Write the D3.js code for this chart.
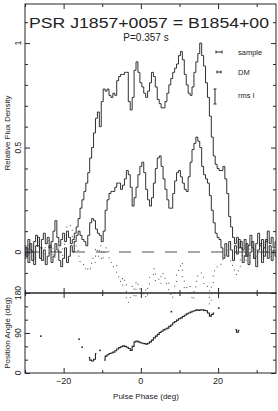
<!DOCTYPE html>
<html><head><meta charset="utf-8">
<script src="https://cdn.jsdelivr.net/npm/d3@7"></script>
<style>
body{margin:0;background:#fff}
svg{display:block}
text{font-family:"Liberation Sans",Arial,Helvetica,sans-serif;fill:#222}
</style>
</head><body>
<svg id="chart" width="278" height="411"></svg>
<script>
// ---------- DATA ----------
const phaseStart = -30, phaseStep = 0.5;   // deg, sample grid
// Total intensity (relative flux)
const totalI = [
  0.03,-0.02,0.06,0.01,-0.04,0.05,0.08,0.03,-0.03,0.06,
  0.09,0.04,0.07,0.02,0.05,0.10,0.15,0.07,0.03,0.06,
  0.09,0.05,0.10,0.07,0.04,0.06,0.09,0.12,0.16,0.21,
  0.25,0.29,0.33,0.38,0.45,0.50,0.57,0.64,0.67,0.60,
  0.72,0.78,0.77,0.78,0.75,0.74,0.76,0.75,0.82,0.84,
  0.85,0.85,0.86,0.86,0.72,0.68,0.74,0.87,0.91,0.86,
  0.81,0.79,0.76,0.74,0.77,0.81,0.86,0.84,0.79,0.73,
  0.71,0.69,0.69,0.72,0.76,0.80,0.83,0.86,0.88,0.90,
  0.94,0.96,0.92,0.85,0.80,0.76,0.75,0.79,0.86,0.91,
  0.95,1.00,0.94,0.89,0.81,0.74,0.65,0.55,0.46,0.42,
  0.40,0.39,0.39,0.41,0.35,0.28,0.17,0.12,0.07,0.04,
  0.07,0.02,0.05,0.01,0.06,-0.02,0.03,0.08,0.02,-0.03,
  0.04,0.09,0.03,0.06,-0.02,0.05,0.10,0.04,0.07,0.02,
  0.05
];
// Linear polarisation
const linearL = [
  -0.03,0.02,-0.05,0.04,0.00,-0.06,0.03,0.07,0.02,-0.04,
  0.01,-0.06,-0.02,0.03,-0.05,-0.02,0.04,0.01,-0.04,-0.07,
  -0.03,0.02,-0.05,-0.02,0.03,0.00,0.05,0.08,0.10,0.08,
  0.06,0.05,0.03,0.08,0.14,0.16,0.15,0.11,0.09,0.08,
  0.05,0.10,0.20,0.25,0.28,0.29,0.29,0.31,0.33,0.33,
  0.30,0.32,0.35,0.39,0.37,0.31,0.22,0.26,0.31,0.37,
  0.41,0.43,0.38,0.30,0.25,0.22,0.26,0.33,0.40,0.45,
  0.46,0.41,0.35,0.30,0.25,0.21,0.21,0.28,0.34,0.38,
  0.39,0.36,0.33,0.30,0.29,0.36,0.43,0.49,0.52,0.55,
  0.53,0.50,0.41,0.37,0.35,0.33,0.27,0.20,0.14,0.09,
  0.07,0.06,0.02,-0.03,0.04,-0.02,0.05,0.01,-0.04,0.03,
  -0.01,0.06,0.02,-0.05,-0.02,0.04,-0.06,0.00,0.05,-0.03,
  -0.07,0.01,0.04,-0.05,0.02,0.06,-0.03,0.03,-0.04,0.01,
  -0.02
];
// Circular polarisation
const circularV = [
  0.02,-0.03,0.04,-0.01,0.03,-0.04,0.01,0.05,-0.02,0.02,
  -0.05,0.03,0.06,-0.01,0.04,-0.03,0.02,0.05,0.00,-0.02,
  0.03,0.08,0.12,0.13,0.11,0.06,0.03,0.01,-0.02,-0.05,
  -0.06,-0.08,-0.07,-0.09,-0.08,-0.03,-0.05,0.02,-0.02,0.03,
  -0.04,0.00,0.02,0.01,-0.03,-0.05,-0.07,-0.06,-0.10,-0.13,
  -0.16,-0.12,-0.15,-0.22,-0.24,-0.20,-0.16,-0.22,-0.14,-0.17,
  -0.19,-0.21,-0.18,-0.22,-0.16,-0.12,-0.11,-0.08,-0.14,-0.13,
  -0.15,-0.10,-0.12,-0.15,-0.14,-0.20,-0.22,-0.21,-0.16,-0.10,
  -0.07,-0.05,-0.12,-0.18,-0.17,-0.16,-0.21,-0.23,-0.18,-0.14,
  -0.11,-0.10,-0.12,-0.15,-0.16,-0.18,-0.25,-0.16,-0.09,-0.08,
  -0.07,-0.06,-0.05,-0.03,-0.01,0.02,-0.02,-0.05,-0.08,-0.09,
  -0.11,-0.07,-0.03,0.01,-0.02,-0.04,-0.05,0.02,-0.01,0.03,
  -0.02,0.01,0.04,-0.03,0.02,0.00,-0.01,0.03,-0.02,0.01,
  0.02
];
// Position angle (deg), connected runs
const paPhase = [
  -13.5,-13.0,-12.5,-12.0,-11.5,
  -9.5,-9.0,-8.5,-8.0,-7.5,-7.0,-6.5,-6.0,-5.5,-5.0,-4.5,-4.0,-3.5,-3.0,-2.5,-2.0,-1.5,-1.0,-0.5,
  0.0,0.5,1.0,1.5,2.0,2.5,3.0,3.5,4.0,4.5,5.0,5.5,6.0,6.5,7.0,7.5,8.0,8.5,9.0,9.5,
  10.0,10.5,11.0,11.5,12.0,12.5,13.0,13.5,14.0,14.5,15.0,15.5,16.0,16.5,17.0,17.5,18.0,18.5,19.0,
  24.5,25.0,25.5
];
const paAngle = [
  35,29,27,31,44,
  29,38,41,44,45,47,50,54,57,59,61,60,58,55,51,60,70,72,70,
  68,67,66,65,67,70,74,79,83,87,91,94,97,99,101,105,108,113,116,119,
  122,124,127,130,133,135,137,139,140,142,141,142,142,141,140,135,128,132,135,
  98,92,96
];
// Isolated position-angle points
const paDotPhase = [-25.9,-16.0,-15.2,-10.6,7.9,20.2];
const paDotAngle = [83,76,58,51,138,146];

const xTicksMajor = [-20,0,20], xTicksMinor = [-30,-10,10,30];
const xTickLabels = ["\u221220","0","20"];
const fluxTicksMajor = [0,0.5,1], fluxTickLabels = ["0","0.5","1"];
const paTicksMajor = [0,90,180], paTickLabels = ["0","90","180"];
const legendLabels = ["sample","DM","rms I"];

// ---------- LAYOUT ----------
const svg = d3.select("#chart");
const L = 25, R = 276, T = 4, MID = 293, B = 373;
const x = d3.scaleLinear().domain([-30,35]).range([L,R]);
const yF = d3.scaleLinear().domain([-0.196,1.187]).range([MID,T]);
const yP = d3.scaleLinear().domain([0,180]).range([B,MID]);
const ink = "#262626";

const phases = totalI.map((_,i)=>phaseStart+i*phaseStep);

// zero line (dashed)
svg.append("line").attr("x1",L).attr("x2",R).attr("y1",yF(0)).attr("y2",yF(0))
  .attr("stroke","#8a8a8a").attr("stroke-width",1.6).attr("stroke-dasharray","12 11")
  .attr("stroke-dashoffset",-2);

const stepLine = (arr,yS)=>d3.line().x((d,i)=>x(phases[i])).y(d=>yS(d)).curve(d3.curveStep)(arr);

svg.append("path").attr("d",stepLine(linearL,yF)).attr("fill","none").attr("stroke",ink).attr("stroke-width",0.95);
svg.append("path").attr("d",stepLine(totalI,yF)).attr("fill","none").attr("stroke",ink).attr("stroke-width",0.95);
svg.append("path").attr("d",stepLine(circularV,yF)).attr("fill","none").attr("stroke","#444")
  .attr("stroke-width",1).attr("stroke-dasharray","1 5.5");

// PA connected runs
const runs = [];
paPhase.forEach((p,i)=>{
  if(i===0 || p-paPhase[i-1] > 0.6) runs.push([]);
  runs[runs.length-1].push([p,paAngle[i]]);
});
const paLine = d3.line().x(d=>x(d[0])).y(d=>yP(d[1])).curve(d3.curveStep);
runs.forEach(r=>svg.append("path").attr("d",paLine(r)).attr("fill","none").attr("stroke",ink).attr("stroke-width",1.1));
svg.selectAll(".padot").data(paDotPhase).enter().append("rect")
  .attr("x",(d)=>x(d)-0.8).attr("y",(d,i)=>yP(paDotAngle[i])-0.8).attr("width",1.6).attr("height",1.6).attr("fill",ink);

// frames
svg.append("rect").attr("x",L).attr("y",T).attr("width",R-L).attr("height",MID-T).attr("fill","none").attr("stroke",ink).attr("stroke-width",1);
svg.append("rect").attr("x",L).attr("y",MID).attr("width",R-L).attr("height",B-MID).attr("fill","none").attr("stroke",ink).attr("stroke-width",1);

// ticks helper
function ticks(axisFn, scale, vals, size, tx, ty){
  const g = svg.append("g").attr("transform",`translate(${tx},${ty})`)
    .call(axisFn(scale).tickValues(vals).tickSize(size).tickFormat(""));
  g.select(".domain").remove();
  g.selectAll("line").attr("stroke",ink);
}
[[d3.axisBottom,T],[d3.axisTop,MID],[d3.axisBottom,MID],[d3.axisTop,B]].forEach(([f,yy])=>{
  ticks(f,x,xTicksMajor,5,0,yy); ticks(f,x,xTicksMinor,3,0,yy);
});
const fluxMinor = d3.range(-1,12).map(v=>v/10).filter(v=>!fluxTicksMajor.includes(v));
ticks(d3.axisRight,yF,fluxTicksMajor,5,L,0); ticks(d3.axisRight,yF,fluxMinor,3,L,0);
ticks(d3.axisLeft,yF,fluxTicksMajor,5,R,0); ticks(d3.axisLeft,yF,fluxMinor,3,R,0);
ticks(d3.axisRight,yP,paTicksMajor,5,L,0); ticks(d3.axisRight,yP,[30,60,120,150],3,L,0);
ticks(d3.axisLeft,yP,paTicksMajor,5,R,0); ticks(d3.axisLeft,yP,[30,60,120,150],3,R,0);

// tick labels
xTicksMajor.forEach((v,i)=>svg.append("text").attr("x",x(v)).attr("y",384).attr("text-anchor","middle")
  .attr("font-size",9).text(xTickLabels[i]));
fluxTicksMajor.forEach((v,i)=>svg.append("text").attr("transform",`translate(21,${yF(v)}) rotate(-90)`)
  .attr("text-anchor","middle").attr("font-size",8.5).text(fluxTickLabels[i]));
paTicksMajor.forEach((v,i)=>svg.append("text").attr("transform",`translate(21,${yP(v)}) rotate(-90)`)
  .attr("text-anchor","middle").attr("font-size",8.5).text(paTickLabels[i]));

// axis titles
svg.append("text").attr("transform","translate(10,133) rotate(-90)").attr("text-anchor","middle")
  .attr("font-size",8).text("Relative Flux Density");
svg.append("text").attr("transform","translate(10,333) rotate(-90)").attr("text-anchor","middle")
  .attr("font-size",8).text("Position Angle (deg)");
svg.append("text").attr("x",146).attr("y",399).attr("text-anchor","middle")
  .attr("font-size",8).text("Pulse Phase (deg)");

// title
svg.append("text").attr("x",149).attr("y",28).attr("text-anchor","middle").attr("font-size",15)
  .attr("textLength",240).attr("lengthAdjust","spacingAndGlyphs").text("PSR J1857+0057 = B1854+00");
svg.append("text").attr("x",146).attr("y",41).attr("text-anchor","middle").attr("font-size",10)
  .text("P=0.357 s");

// legend
const lg = svg.append("g").attr("stroke",ink).attr("stroke-width",1);
function hbar(x1,x2,yy){ lg.append("line").attr("x1",x1).attr("x2",x2).attr("y1",yy).attr("y2",yy);
  lg.append("line").attr("x1",x1).attr("x2",x1).attr("y1",yy-1.5).attr("y2",yy+1.5);
  lg.append("line").attr("x1",x2).attr("x2",x2).attr("y1",yy-1.5).attr("y2",yy+1.5); }
hbar(216,222,52); hbar(217,221,72);
lg.append("line").attr("x1",215).attr("x2",215).attr("y1",89).attr("y2",104);
lg.append("line").attr("x1",213.5).attr("x2",216.5).attr("y1",89).attr("y2",89);
lg.append("line").attr("x1",213.5).attr("x2",216.5).attr("y1",104).attr("y2",104);
[55,75,98].forEach((yy,i)=>svg.append("text").attr("x",238).attr("y",yy).attr("font-size",7.5)
  .attr("fill","#222").text(legendLabels[i]));
</script>
</body></html>
